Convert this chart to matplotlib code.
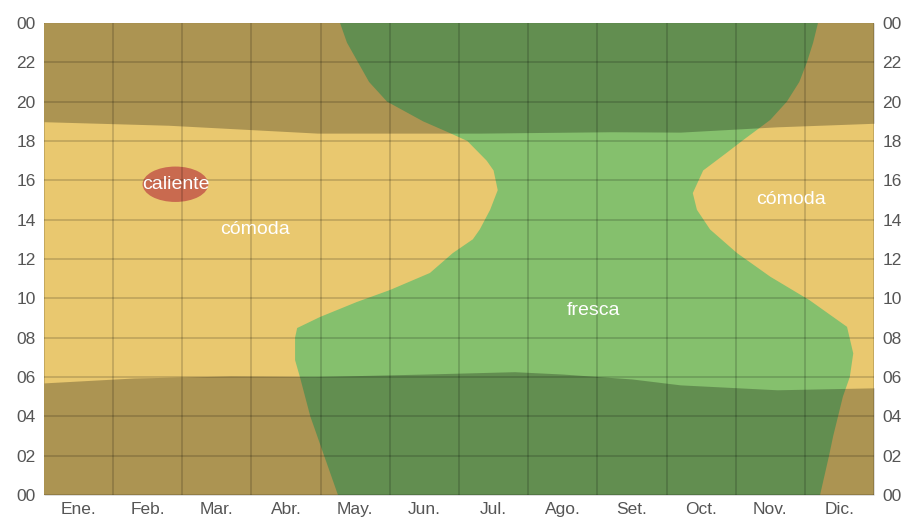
import numpy as np
import matplotlib
matplotlib.use("Agg")
import matplotlib.pyplot as plt
from matplotlib.patches import Ellipse

# -------------------------
# Data (x = month position 0..12, y = hour of day 0..24)
# -------------------------
months = ["Ene.", "Feb.", "Mar.", "Abr.", "May.", "Jun.",
          "Jul.", "Ago.", "Set.", "Oct.", "Nov.", "Dic."]
hour_ticks = list(range(0, 25, 2))
hour_labels = [f"{h % 24:02d}" for h in hour_ticks]

# "fresca" region: left edge (hour -> month) and right edge
fresca_left_hours = [0, 2, 4, 6, 6.86, 8, 8.49, 9.05, 9.81, 10.42, 11.29, 12.3,
                     13, 13.5, 14.5, 15.5, 16.5, 17, 18, 18.4, 19, 20, 21, 22, 23, 24]
fresca_left_months = [4.25, 4.05, 3.85, 3.70, 3.63, 3.63, 3.66, 3.99, 4.52, 5.0, 5.58, 5.91,
                      6.2, 6.3, 6.45, 6.56, 6.5, 6.4, 6.12, 5.87, 5.48, 4.96, 4.7, 4.54, 4.38, 4.28]
fresca_right_hours = [0, 2, 3, 5, 6, 7.2, 8.55, 9.9, 11.1, 12.3, 13.5, 14.5,
                      15.35, 16.5, 17.4, 18.05, 19.07, 20, 21, 22, 23, 24]
fresca_right_months = [11.22, 11.35, 11.41, 11.55, 11.65, 11.70, 11.61, 11.07, 10.50, 10.02, 9.63, 9.44,
                       9.38, 9.53, 9.87, 10.11, 10.50, 10.74, 10.92, 11.03, 11.12, 11.19]

# "caliente" spot
caliente_center = (1.9, 15.8)
caliente_size = (0.95, 1.8)

# sunrise / sunset
sunrise_months = [0, 1.3, 2.7, 3.9, 5.5, 6.8, 7.5, 8.5, 9.2, 10.6, 12]
sunrise_hours = [5.7, 5.95, 6.05, 6.02, 6.15, 6.27, 6.15, 5.9, 5.6, 5.35, 5.45]
sunset_months = [0, 1.8, 3.95, 6.3, 8.2, 9.2, 10.6, 12]
sunset_hours = [18.98, 18.8, 18.4, 18.4, 18.47, 18.45, 18.72, 18.9]

# region labels
region_labels = ["caliente", "cómoda", "fresca", "cómoda"]
region_label_x = [1.9, 3.05, 7.95, 10.8]
region_label_y = [15.8, 13.5, 9.4, 15.0]

# -------------------------
# Plot
# -------------------------
c_comoda = "#e9c86f"
c_fresca = "#85c06d"
c_caliente = "#c96a4f"

plt.rcParams["font.family"] = ["Liberation Sans", "DejaVu Sans"]

fig = plt.figure(figsize=(9.09, 5.22), dpi=100)
ax = fig.add_axes([0.0484, 0.0517, 0.9131, 0.9043])
ax.set_facecolor(c_comoda)

fx = np.concatenate([fresca_left_months, fresca_right_months[::-1]])
fy = np.concatenate([fresca_left_hours, fresca_right_hours[::-1]])
ax.fill(fx, fy, color=c_fresca, lw=0, zorder=1)

ax.add_patch(Ellipse(caliente_center, caliente_size[0], caliente_size[1],
                     color=c_caliente, lw=0, zorder=2))

# night shading
ax.fill_between(sunrise_months, 0, sunrise_hours, color="black", alpha=0.26, lw=0, zorder=3)
ax.fill_between(sunset_months, sunset_hours, 24, color="black", alpha=0.26, lw=0, zorder=3)

for txt, x, y in zip(region_labels, region_label_x, region_label_y):
    ax.text(x, y, txt, color="white", fontsize=14, ha="center", va="center", zorder=5)

ax.set_xlim(0, 12)
ax.set_ylim(0, 24)
ax.set_xticks(np.arange(12) + 0.5)
ax.set_xticklabels(months)
ax.set_xticks(np.arange(13), minor=True)
ax.set_yticks(hour_ticks)
ax.set_yticklabels(hour_labels)

ax.grid(which="minor", axis="x", color="black", alpha=0.2, lw=1.1, zorder=4)
ax.grid(which="major", axis="y", color="black", alpha=0.2, lw=1.1, zorder=4)
ax.set_axisbelow(False)

ax.tick_params(axis="both", which="both", length=0, colors="#555555", labelsize=12.5)
ax.tick_params(axis="y", labelright=True, pad=6)
ax.tick_params(axis="x", pad=5)
for s in ax.spines.values():
    s.set_visible(False)

fig.savefig("out.png", dpi=100)
